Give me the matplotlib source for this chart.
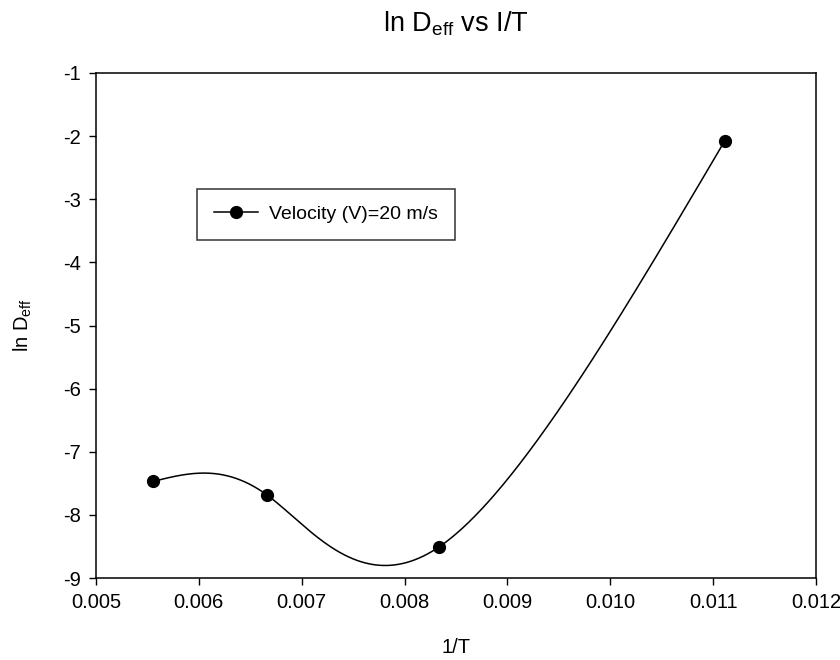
import matplotlib
matplotlib.use("Agg")
import matplotlib.pyplot as plt
import numpy as np

plt.rcParams['font.family'] = ['Liberation Sans', 'DejaVu Sans']
plt.rcParams['mathtext.default'] = 'regular'

# data
inv_T = [1/180, 1/150, 1/120, 1/90]
ln_deff = [-7.47, -7.69, -8.51, -2.08]
series_label = 'Velocity (V)=20 m/s'
x_ticks = [0.005, 0.006, 0.007, 0.008, 0.009, 0.010, 0.011, 0.012]
y_ticks = [-9, -8, -7, -6, -5, -4, -3, -2, -1]


# Natural cubic spline on a uniform parameter t = 0, 1, 2, ...
def naturalSpline1d(v, ts):
    v = np.asarray(v, float)
    n = len(v)
    A = np.zeros((n, n))
    b = np.zeros(n)
    A[0, 0] = 1
    A[-1, -1] = 1
    for i in range(1, n-1):
        A[i, i-1] = 1
        A[i, i] = 4
        A[i, i+1] = 1
        b[i] = 6*(v[i+1] - 2*v[i] + v[i-1])
    M = np.linalg.solve(A, b)
    i = np.clip(np.floor(ts).astype(int), 0, n-2)
    t0 = ts - i
    t1 = 1 - t0
    return (M[i]*t1**3 + M[i+1]*t0**3)/6 + (v[i] - M[i]/6)*t1 + (v[i+1] - M[i+1]/6)*t0


# Parametric spline through the points (SigmaPlot style smooth line)
def smoothCurve(x, y, num=600):
    ts = np.linspace(0, len(x)-1, num)
    return naturalSpline1d(x, ts), naturalSpline1d(y, ts)


fig = plt.figure(figsize=(8.4, 6.6), dpi=100)
ax = fig.add_axes((96/840, 1-578/660, 720/840, 505/660))

cx, cy = smoothCurve(inv_T, ln_deff)
ax.plot(cx, cy, color='black', linewidth=1.1)
ax.plot(inv_T, ln_deff, linestyle='none', marker='o', markersize=8.5, color='black')
# legend proxy: line with marker
ax.plot([], [], color='black', linewidth=1.1, marker='o', markersize=8.5, label=series_label)

ax.set_xlim(0.005, 0.012)
ax.set_ylim(-9, -1)
ax.set_xticks(x_ticks)
ax.set_xticklabels(['%.3f' % v for v in x_ticks])
ax.set_yticks(y_ticks)
ax.set_yticklabels([str(v) for v in y_ticks])
ax.tick_params(direction='out', length=5, width=1, labelsize=14.5, pad=6)
for s in ax.spines.values():
    s.set_linewidth(1.1)

ax.set_xlabel('1/T', fontsize=14.5, labelpad=18.5)
ax.set_ylabel('ln D$_{eff}$', fontsize=14.5, labelpad=21)
fig.text(456/840, 1-32/660, 'ln D$_{eff}$ vs I/T', ha='center', va='baseline', fontsize=19.5)

leg = ax.legend(loc='upper left', bbox_to_anchor=(101/720, 389/505), fontsize=14,
                frameon=True, fancybox=False, edgecolor='black', handlelength=2.27,
                handletextpad=0.6, borderpad=0.85, borderaxespad=0)
leg.get_frame().set_linewidth(1.1)

plt.savefig('out.png', dpi=100)
